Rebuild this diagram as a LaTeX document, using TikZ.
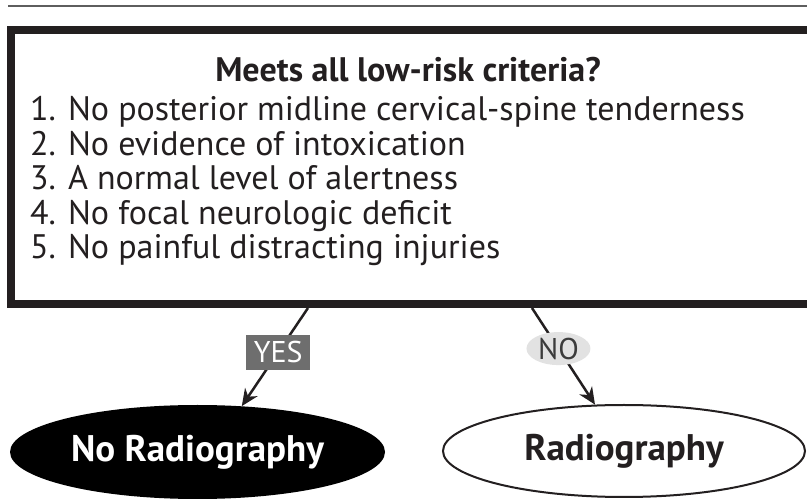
\documentclass[tikz,border=0pt]{standalone}
\usepackage{fontspec}
\setmainfont{PT Sans}
\usepackage{tikz}
\usetikzlibrary{shapes.geometric, arrows.meta, positioning, calc}
\definecolor{cink}{HTML}{231F20}
\definecolor{crule}{HTML}{5E5E5E}
\definecolor{cyes}{HTML}{6E6E6E}
\definecolor{cno}{HTML}{E2E2E2}
\definecolor{cnotext}{HTML}{3C3C3C}
\tikzset{
  critbox/.style={rectangle, draw=cink, line width=8pt, fill=white,
                  minimum width=819pt, minimum height=274pt, inner sep=0pt},
  crithead/.style={anchor=base, inner sep=0pt, text=cink,
                   font=\fontsize{34pt}{38pt}\selectfont\bfseries},
  crititem/.style={anchor=base west, inner sep=0pt, text=cink,
                   font=\fontsize{34pt}{38pt}\selectfont},
  outblack/.style={ellipse, fill=black, text=white, inner sep=0pt,
                   minimum width=375pt, minimum height=94pt,
                   font=\fontsize{37pt}{40pt}\selectfont\bfseries},
  outwhite/.style={ellipse, draw=cink, line width=2pt, fill=white, text=cink, inner sep=0pt,
                   minimum width=362pt, minimum height=92pt,
                   font=\fontsize{37pt}{40pt}\selectfont\bfseries},
  yestag/.style={rectangle, fill=cyes, text=white, inner sep=0pt,
                 minimum width=64pt, minimum height=35pt, font=\fontsize{30pt}{30pt}\selectfont},
  notag/.style={ellipse, fill=cno, text=cnotext, inner sep=0pt,
                minimum width=64pt, minimum height=33pt, font=\fontsize{30pt}{30pt}\selectfont},
  flow/.style={-{Stealth[length=17pt, width=15pt]}, draw=cink, line width=2.5pt}
}

\begin{document}
\begin{tikzpicture}[x=1pt, y=1pt]
  \useasboundingbox (0,0) rectangle (807,501);
  \clip (0,0) rectangle (807,501);
  % header rule
  \draw[crule, line width=2.5pt] (8,495) -- (807,495);

  % criteria box
  \node[critbox] (crit) at (420.5,334) {};
  \node[crithead] (head) at (408,419) {Meets all low-risk criteria?};
  \node[crititem] (c1) at (30,380) {1. No posterior midline cervical-spine tenderness};
  \node[crititem] (c2) at (30,345.5) {2. No evidence of intoxication};
  \node[crititem] (c3) at (30,311) {3. A normal level of alertness};
  \node[crititem] (c4) at (30,276.5) {4. No focal neurologic deficit};
  \node[crititem] (c5) at (30,242) {5. No painful distracting injuries};

  % outcomes
  \node[outblack] (noxray) at (197.5,49) {No Radiography};
  \node[outwhite] (xray) at (624,50) {Radiography};

  \draw[flow] ([xshift=-112.5pt]crit.south) -- node[yestag, pos=0.45] {YES} (noxray.46);
  \draw[flow] ([xshift=111.5pt]crit.south) -- node[notag, pos=0.42] {NO} (xray.122);
\end{tikzpicture}
\end{document}
